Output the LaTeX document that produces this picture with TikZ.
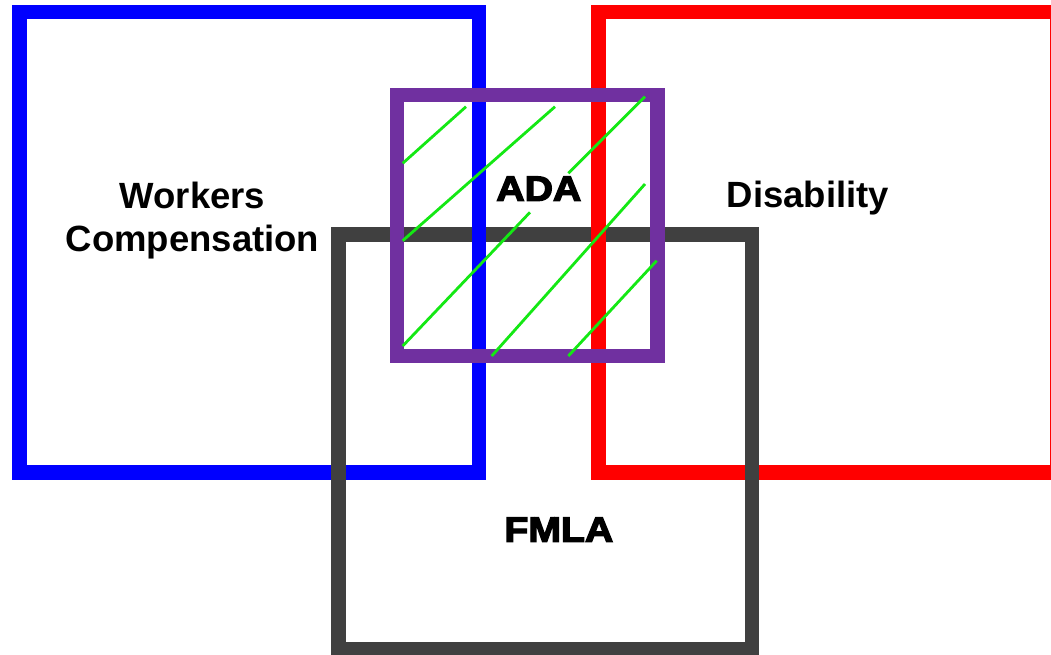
\documentclass[tikz,border=0pt]{standalone}
\usepackage{fontspec}
\setmainfont{Liberation Sans}
\newfontfamily\heavyfont{Liberation Sans}[BoldFeatures={FakeBold=4,FakeStretch=1.12}]
\definecolor{wcblue}{RGB}{0,0,255}
\definecolor{disred}{RGB}{255,0,0}
\definecolor{fmgray}{RGB}{64,64,64}
\definecolor{adapurple}{RGB}{112,48,160}
\definecolor{hatchgreen}{RGB}{20,232,20}
\tikzset{
  frame/.style={line width=14.5pt, line join=miter},
  hatch/.style={hatchgreen, line width=2.8pt},
  lbl/.style={anchor=base, inner sep=0pt, font=\fontsize{36.5}{43.4}\selectfont\bfseries, align=center},
  heavylbl/.style={anchor=base, inner sep=0pt, font=\fontsize{35}{41}\selectfont\heavyfont\bfseries}
}
\begin{document}
\begin{tikzpicture}[x=1pt,y=-1pt]
\useasboundingbox (0,0) rectangle (1051,654);
\clip (0,0) rectangle (1051,654);
\fill[white] (0,0) rectangle (1051,654);
% FMLA (gray)
\draw[frame, fmgray] (338.5,234.5) rectangle (751.8,649.5);
% Workers Compensation (blue)
\draw[frame, wcblue] (19.3,11.8) rectangle (479,472.5);
% Disability (red)
\draw[frame, disred] (598.5,11.8) rectangle (1057.5,472.5);
% gray verticals woven over the bottom bars
\draw[frame, fmgray, line cap=rect] (338.5,234.5) -- (338.5,649.5);
\draw[frame, fmgray, line cap=rect] (751.8,234.5) -- (751.8,649.5);
% ADA (purple)
\draw[frame, adapurple] (396.8,94.8) rectangle (657.7,356);
% hatching
\draw[hatch] (402.7,163.3) -- (466,106.7);
\draw[hatch] (402.7,240.7) -- (555,106.7);
\draw[hatch] (568.3,173.3) -- (645,96.7);
\draw[hatch] (402.7,346) -- (530,212.3);
\draw[hatch] (491.7,356) -- (645,184);
\draw[hatch] (568.3,356) -- (656.7,260.7);
% labels
\node[lbl] (wc) at (192.5,251.7) {Workers\\Compensation};
\node[lbl] (dis) at (808,207.3) {Disability};
\node[heavylbl] (ada) at (538.8,200.7) {ADA};
\node[heavylbl] (fmla) at (558.8,541.7) {FMLA};
\end{tikzpicture}
\end{document}
